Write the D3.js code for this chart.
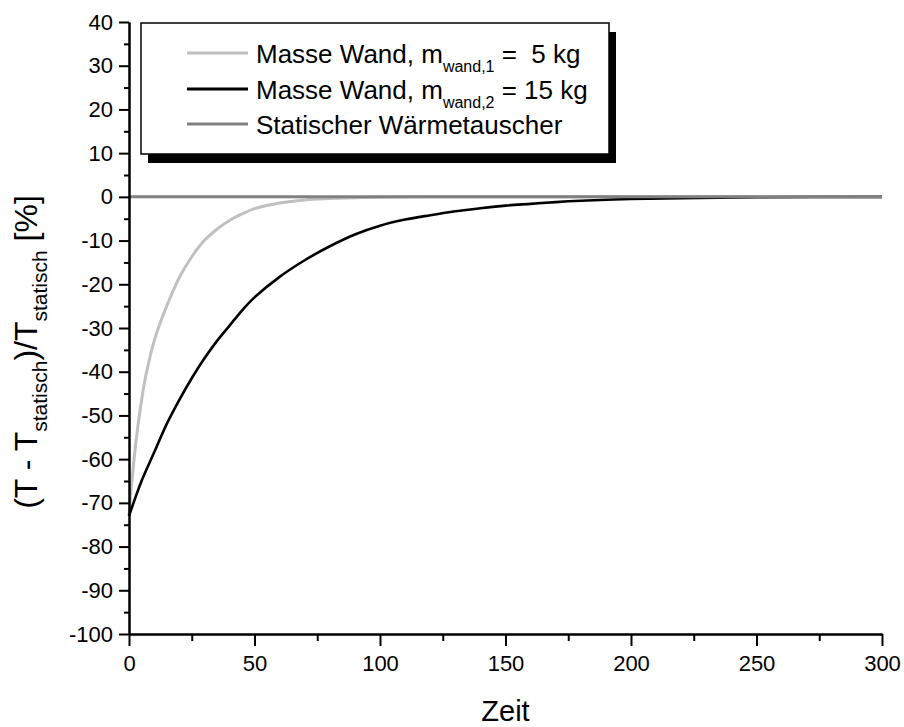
<!DOCTYPE html>
<html>
<head>
<meta charset="utf-8">
<script src="https://cdn.jsdelivr.net/npm/d3@7"></script>
<style>
  body { margin: 0; background: #fff; }
  svg { font-family: "Liberation Sans", Arial, sans-serif; }
  text { white-space: pre; }
</style>
</head>
<body>
<div class="chart"></div>
<script>
// time axis values (Zeit)
const timeMasse1 = [0, 1, 2, 3, 4, 6, 8, 10, 12, 15, 20, 25, 30, 35, 40, 45, 50, 60, 70, 80, 90, 100, 120, 150, 200, 250, 300];
const valMasse1 = [-73, -66, -60, -55, -50.5, -43, -37.5, -33, -29.5, -25, -18.5, -13.7, -10, -7.4, -5.4, -3.9, -2.7, -1.4, -0.7, -0.4, -0.2, -0.1, 0, 0, 0, 0, 0];

const timeMasse2 = [0, 5, 10, 15, 20, 25, 30, 35, 40, 45, 50, 60, 70, 80, 90, 100, 110, 120, 130, 140, 150, 160, 170, 180, 200, 220, 250, 300];
const valMasse2 = [-73, -65, -58.5, -52, -46.5, -41.5, -37, -33, -29.5, -26, -23, -18.3, -14.5, -11.3, -8.6, -6.6, -5.2, -4.2, -3.3, -2.6, -2.0, -1.6, -1.2, -0.9, -0.5, -0.3, -0.1, 0];

const timeStatic = [0, 300];
const valStatic = [0, 0];

const xMajor = [0, 50, 100, 150, 200, 250, 300];
const xMinor = [25, 75, 125, 175, 225, 275];
const yMajor = [40, 30, 20, 10, 0, -10, -20, -30, -40, -50, -60, -70, -80, -90, -100];
const yMinor = [35, 25, 15, 5, -5, -15, -25, -35, -45, -55, -65, -75, -85, -95];

const seriesNames = ['Masse Wand, m', 'Masse Wand, m', 'Statischer Wärmetauscher'];
const seriesSubs = ['wand,1', 'wand,2', ''];
const seriesTails = [' =  5 kg', ' = 15 kg', ''];
const seriesColors = ['#c0c0c0', '#000000', '#808080'];

const width = 904, height = 727;
const margin = ({top: 22, right: 22, bottom: 93, left: 129});

const svg = d3.select('.chart')
    .append('svg')
    .attr('width', width)
    .attr('height', height);

const xScale = d3.scaleLinear()
    .domain([0, 300])
    .range([margin.left, width - margin.right]);

const yScale = d3.scaleLinear()
    .domain([-100, 40])
    .range([height - margin.bottom, margin.top]);

// curves
const line = d3.line()
    .curve(d3.curveCatmullRom.alpha(0.5))
    .x(d => xScale(d[0]))
    .y(d => yScale(d[1]));

const series = [
    {data: d3.zip(timeMasse1, valMasse1), color: seriesColors[0], w: 3},
    {data: d3.zip(timeMasse2, valMasse2), color: seriesColors[1], w: 2.6},
    {data: d3.zip(timeStatic, valStatic), color: seriesColors[2], w: 3}
];

svg.selectAll('path.curve')
    .data(series)
    .enter()
    .append('path')
    .attr('class', 'curve')
    .attr('d', d => line(d.data))
    .attr('fill', 'none')
    .attr('stroke', d => d.color)
    .attr('stroke-width', d => d.w)
    .attr('stroke-linejoin', 'round');

// axes
function styleAxis(g) {
    g.select('.domain').attr('stroke-width', 2);
    g.selectAll('.tick line').attr('stroke-width', 2);
}

function styleLabels(g) {
    g.selectAll('.tick text')
        .attr('font-size', 22)
        .attr('font-family', '"Liberation Sans", Arial, sans-serif')
        .attr('fill', '#000');
}

svg.append('g')
    .attr('transform', `translate(0,${yScale(-100)})`)
    .call(d3.axisBottom(xScale).tickValues(xMinor).tickSize(7).tickFormat('').tickSizeOuter(0))
    .call(styleAxis);

svg.append('g')
    .attr('transform', `translate(0,${yScale(-100)})`)
    .call(d3.axisBottom(xScale).tickValues(xMajor).tickSize(12).tickPadding(9)
        .tickFormat(d => String(d)).tickSizeOuter(0))
    .call(styleAxis)
    .call(styleLabels);

svg.append('g')
    .attr('transform', `translate(${xScale(0)},0)`)
    .call(d3.axisLeft(yScale).tickValues(yMinor).tickSize(5).tickFormat('').tickSizeOuter(0))
    .call(styleAxis);

svg.append('g')
    .attr('transform', `translate(${xScale(0)},0)`)
    .call(d3.axisLeft(yScale).tickValues(yMajor).tickSize(10).tickPadding(6)
        .tickFormat(d => String(d)).tickSizeOuter(0))
    .call(styleAxis)
    .call(styleLabels);

// axis titles
svg.append('text')
    .attr('x', (xScale(0) + xScale(300)) / 2)
    .attr('y', 721)
    .attr('text-anchor', 'middle')
    .attr('font-size', 29)
    .text('Zeit');

const yTitle = svg.append('text')
    .attr('transform', 'translate(37,352) rotate(-90)')
    .attr('text-anchor', 'middle')
    .attr('font-size', 32);
yTitle.append('tspan').text('(T - T');
yTitle.append('tspan').attr('font-size', 21).attr('dy', 10).text('statisch');
yTitle.append('tspan').attr('dy', -10).text(')/T');
yTitle.append('tspan').attr('font-size', 21).attr('dy', 10).text('statisch');
yTitle.append('tspan').attr('dy', -10).text(' [%]');

// legend
const legend = svg.append('g').attr('class', 'legend');
const lx = 141, ly = 23, lw = 468, lh = 131;

legend.append('rect')
    .attr('x', lx + 7).attr('y', ly + 9)
    .attr('width', lw).attr('height', lh)
    .attr('fill', '#000');

legend.append('rect')
    .attr('x', lx).attr('y', ly)
    .attr('width', lw).attr('height', lh)
    .attr('fill', '#fff')
    .attr('stroke', '#000')
    .attr('stroke-width', 1.5);

const rowY = [53, 89, 124];

seriesNames.forEach((name, i) => {
    legend.append('line')
        .attr('x1', 187).attr('x2', 248)
        .attr('y1', rowY[i]).attr('y2', rowY[i])
        .attr('stroke', seriesColors[i])
        .attr('stroke-width', 3);

    const t = legend.append('text')
        .attr('x', 256)
        .attr('y', rowY[i] + 10)
        .attr('font-size', 26);
    t.append('tspan').text(name);
    if (seriesSubs[i]) {
        t.append('tspan').attr('font-size', 16).attr('dy', 9).text(seriesSubs[i]);
        t.append('tspan').attr('dy', -9).text(seriesTails[i]);
    }
});
</script>
</body>
</html>
